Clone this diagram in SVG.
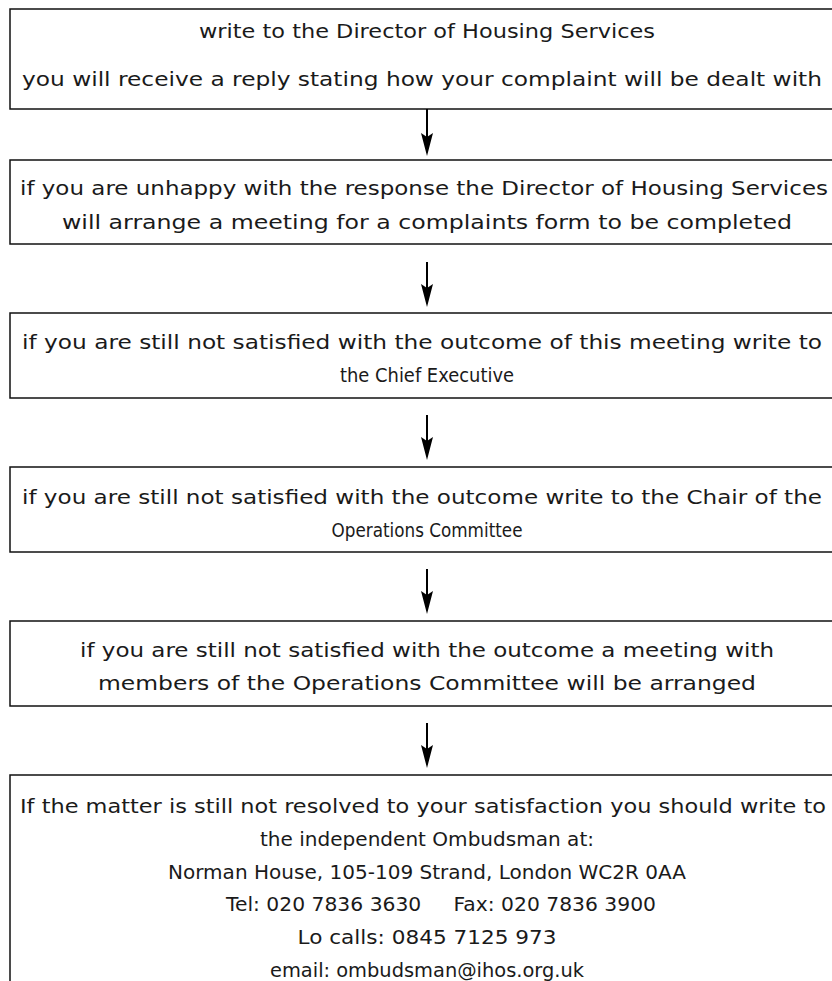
<svg xmlns="http://www.w3.org/2000/svg" width="832" height="981" viewBox="0 0 832 981">
<defs>
<style>
.box{fill:#fff;stroke:#111;stroke-width:1.5}
.t{font-family:"DejaVu Sans","Liberation Sans",sans-serif;font-size:20px;fill:#1a1a1a;text-anchor:middle}
.c{stroke:#000;stroke-width:2;fill:none}
.h{fill:#000}
</style>
</defs>
<rect width="832" height="981" fill="#fff"/>
<g id="n1"><rect class="box" x="10" y="9" width="850" height="100"/>
<text class="t" x="427" y="38" textLength="456" lengthAdjust="spacingAndGlyphs">write to the Director of Housing Services</text>
<text class="t" x="422" y="86" textLength="800" lengthAdjust="spacingAndGlyphs">you will receive a reply stating how your complaint will be dealt with</text></g>
<g id="n2"><rect class="box" x="10" y="160" width="850" height="84"/>
<text class="t" x="424" y="195" textLength="808" lengthAdjust="spacingAndGlyphs">if you are unhappy with the response the Director of Housing Services</text>
<text class="t" x="427" y="229" textLength="730" lengthAdjust="spacingAndGlyphs">will arrange a meeting for a complaints form to be completed</text></g>
<g id="n3"><rect class="box" x="10" y="313" width="850" height="85"/>
<text class="t" x="422" y="349" textLength="800" lengthAdjust="spacingAndGlyphs">if you are still not satisfied with the outcome of this meeting write to</text>
<text class="t" x="427" y="382" textLength="174" lengthAdjust="spacingAndGlyphs">the Chief Executive</text></g>
<g id="n4"><rect class="box" x="10" y="467" width="850" height="85"/>
<text class="t" x="422" y="504" textLength="800" lengthAdjust="spacingAndGlyphs">if you are still not satisfied with the outcome write to the Chair of the</text>
<text class="t" x="427" y="537" textLength="191" lengthAdjust="spacingAndGlyphs">Operations Committee</text></g>
<g id="n5"><rect class="box" x="10" y="621" width="850" height="85"/>
<text class="t" x="427" y="657" textLength="694" lengthAdjust="spacingAndGlyphs">if you are still not satisfied with the outcome a meeting with</text>
<text class="t" x="427" y="690" textLength="658" lengthAdjust="spacingAndGlyphs">members of the Operations Committee will be arranged</text></g>
<g id="n6"><rect class="box" x="10" y="775" width="850" height="230"/>
<text class="t" x="423" y="813" textLength="806" lengthAdjust="spacingAndGlyphs">If the matter is still not resolved to your satisfaction you should write to</text>
<text class="t" x="427" y="846" textLength="334" lengthAdjust="spacingAndGlyphs">the independent Ombudsman at:</text>
<text class="t" x="427" y="879" textLength="518" lengthAdjust="spacingAndGlyphs">Norman House, 105-109 Strand, London WC2R 0AA</text>
<text class="t" x="441" y="911" textLength="430" lengthAdjust="spacingAndGlyphs" xml:space="preserve">Tel: 020 7836 3630     Fax: 020 7836 3900</text>
<text class="t" x="427" y="944" textLength="259" lengthAdjust="spacingAndGlyphs">Lo calls: 0845 7125 973</text>
<text class="t" x="427" y="977" textLength="314" lengthAdjust="spacingAndGlyphs">email: ombudsman@ihos.org.uk</text></g>
<g id="connectors">
<path class="c" d="M427,109 V150"/><path class="h" d="M421,133 L427,137 L433,133 L427,156 Z"/>
<path class="c" d="M427,262 V300"/><path class="h" d="M421,284 L427,288 L433,284 L427,307 Z"/>
<path class="c" d="M427,415 V453"/><path class="h" d="M421,437 L427,441 L433,437 L427,460 Z"/>
<path class="c" d="M427,569 V607"/><path class="h" d="M421,591 L427,595 L433,591 L427,614 Z"/>
<path class="c" d="M427,723 V761"/><path class="h" d="M421,745 L427,749 L433,745 L427,768 Z"/>
</g>
</svg>
